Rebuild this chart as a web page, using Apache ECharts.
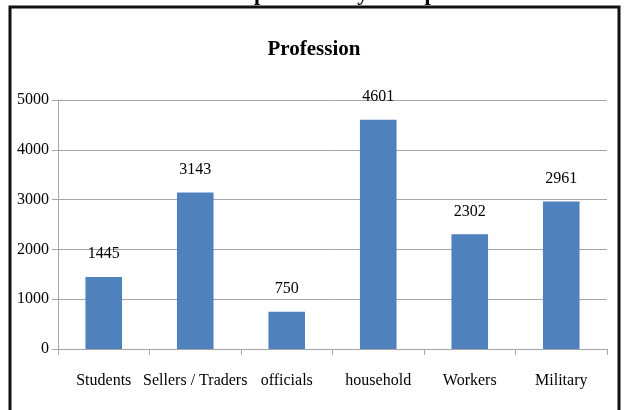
<!DOCTYPE html>
<html>
<head>
<meta charset="utf-8">
<script src="https://cdn.jsdelivr.net/npm/echarts@6/dist/echarts.min.js"></script>
<style>
  html, body { margin: 0; padding: 0; background: #fff; }
  #chart { width: 628px; height: 410px; }
</style>
</head>
<body>
<div id="chart"></div>
<script>
var categories = ['Students', 'Sellers / Traders', 'officials', 'household', 'Workers', 'Military']
var counts = [1445, 3143, 750, 4601, 2302, 2961]
var yTicks = [0, 1000, 2000, 3000, 4000, 5000]

var serif = "'Liberation Serif', 'DejaVu Serif', serif"

var chart = echarts.init(document.getElementById('chart'))

chart.setOption({
    animation: false,
    title: {
        text: 'Profession',
        left: 'center',
        top: 34,
        textStyle: {
            fontFamily: serif,
            fontWeight: 'bold',
            fontSize: 21,
            color: '#000'
        }
    },
    grid: {
        left: 58,
        right: 21,
        top: 100,
        bottom: 61
    },
    xAxis: {
        type: 'category',
        data: categories,
        axisLine: { lineStyle: { color: '#a6a6a6', width: 1 } },
        axisTick: { show: true, length: 6, lineStyle: { color: '#a6a6a6' } },
        axisLabel: {
            interval: 0,
            margin: 24,
            fontFamily: serif,
            fontSize: 16,
            color: '#000'
        }
    },
    yAxis: {
        type: 'value',
        min: yTicks[0],
        max: yTicks[yTicks.length - 1],
        interval: 1000,
        axisLine: { show: true, lineStyle: { color: '#a6a6a6', width: 1 } },
        axisTick: { show: true, length: 6, lineStyle: { color: '#a6a6a6' } },
        axisLabel: {
            margin: 9,
            fontFamily: serif,
            fontSize: 16,
            color: '#000',
            formatter: function(v) { return String(v) }
        },
        splitLine: { lineStyle: { color: '#a6a6a6', width: 1 } }
    },
    series: [{
        type: 'bar',
        data: counts,
        barWidth: '40%',
        itemStyle: { color: '#4f81bd' },
        label: {
            show: true,
            position: 'top',
            distance: 15,
            fontFamily: serif,
            fontSize: 16,
            color: '#000'
        }
    }],
    graphic: [{
        type: 'rect',
        shape: { x: 10, y: 7, width: 609, height: 420 },
        style: { fill: null, stroke: '#111', lineWidth: 3 },
        silent: true
    }, {
        // heading of the page above the chart, only its descenders show
        type: 'text',
        left: 82,
        top: -17,
        style: {
            text: 'Distribution of respondents by their profession',
            font: "bold 22px 'Liberation Serif', serif",
            fill: '#000'
        },
        silent: true
    }]
})
</script>
</body>
</html>
